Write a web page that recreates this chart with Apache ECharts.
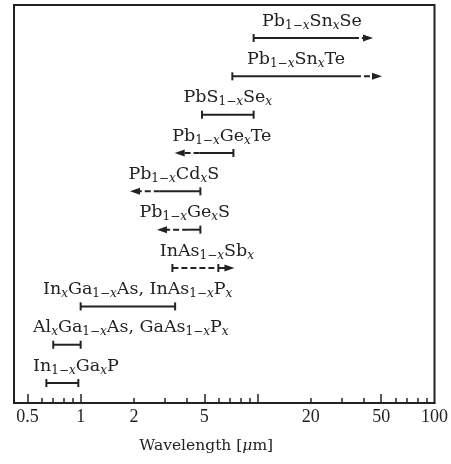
<!DOCTYPE html>
<html>
<head>
<meta charset="utf-8">
<script src="https://cdn.jsdelivr.net/npm/echarts@6/dist/echarts.min.js"></script>
<style>
html,body{margin:0;padding:0;background:#fff;}
#chart{width:451px;height:464px;}
</style>
</head>
<body>
<div id="chart"></div>
<script>
// Material labels (rich text: s = upright subscript, i = italic subscript)
const materials = [
  'Pb{s|1−}{i|x}Sn{i|x}Se',
  'Pb{s|1−}{i|x}Sn{i|x}Te',
  'PbS{s|1−}{i|x}Se{i|x}',
  'Pb{s|1−}{i|x}Ge{i|x}Te',
  'Pb{s|1−}{i|x}Cd{i|x}S',
  'Pb{s|1−}{i|x}Ge{i|x}S',
  'InAs{s|1−}{i|x}Sb{i|x}',
  'In{i|x}Ga{s|1−}{i|x}As, InAs{s|1−}{i|x}P{i|x}',
  'Al{i|x}Ga{s|1−}{i|x}As, GaAs{s|1−}{i|x}P{i|x}',
  'In{s|1−}{i|x}Ga{i|x}P'
];
// wavelength (µm): capped end, junction, tip of the extension (null = none)
const cappedEnd = [9.5, 7.2, 4.85, 7.3, 4.75, 4.75, 3.3, 1.0, 0.7, 0.64];
const junction  = [34.6, 35.5, 9.5, 4.7, 2.8, 4.05, 6.0, 3.42, 1.0, 0.97];
const tipEnd    = [44.9, 50.5, null, 3.4, 1.9, 2.7, 7.4, null, null, null];
// 'range' = capped both ends, 'extend' = solid then dashed arrow, 'dashFirst' = dashed then solid arrow
const kinds = ['extend','extend','range','extend','extend','extend','dashFirst','range','range','range'];
// label centre (µm)
const labelAt = [20.3, 16.5, 6.79, 6.28, 3.36, 3.88, 5.17, 2.10, 1.92, 0.94];

const majorTicks = [0.5, 1, 5, 10, 50];
const minorTicks = [0.6, 0.7, 0.8, 0.9, 2, 3, 4, 6, 7, 8, 9, 20, 30, 40, 60, 70, 80, 90];
const tickLabels = [0.5, 1, 2, 5, 20, 50, 100];

const INK = '#222222';
const chart = echarts.init(document.getElementById('chart'));

function renderItem(params, api) {
  const i = params.dataIndex;
  const yv = materials.length - i;
  const pa = api.coord([cappedEnd[i], yv]);
  const pb = api.coord([junction[i], yv]);
  const y = pa[1];
  const kids = [];
  const solid = {stroke: INK, lineWidth: 2};
  const dashed = {stroke: INK, lineWidth: 2, lineDash: [6, 3]};
  const cap = (x) => kids.push({type: 'line', shape: {x1: x, y1: y - 4, x2: x, y2: y + 4}, style: solid});
  const seg = (x1, x2, st) => kids.push({type: 'line', shape: {x1: x1, y1: y, x2: x2, y2: y}, style: st});
  const arrow = (tip, dir) => kids.push({type: 'polygon', shape: {points: [[tip, y], [tip - dir * 10, y - 3.5], [tip - dir * 10, y + 3.5]]}, style: {fill: INK}});
  const k = kinds[i];
  if (k === 'range') {
    seg(pa[0], pb[0], solid); cap(pa[0]); cap(pb[0]);
  } else if (k === 'extend') {
    const pc = api.coord([tipEnd[i], yv]);
    const dir = pc[0] > pb[0] ? 1 : -1;
    seg(pa[0], pb[0], solid); cap(pa[0]);
    seg(pb[0], pc[0] - dir * 9, dashed);
    arrow(pc[0], dir);
  } else {
    const pc = api.coord([tipEnd[i], yv]);
    const dir = pc[0] > pb[0] ? 1 : -1;
    cap(pa[0]);
    seg(pa[0], pb[0] - dir * 2, dashed);
    cap(pb[0]);
    seg(pb[0], pc[0] - dir * 9, solid);
    arrow(pc[0], dir);
  }
  const lx = api.coord([labelAt[i], yv])[0];
  kids.push({
    type: 'text',
    style: {
      text: materials[i],
      x: lx, y: y - 17,
      align: 'center', verticalAlign: 'middle',
      fontFamily: 'DejaVu Serif', fontSize: 17.5, lineHeight: 21,
      fill: INK,
      rich: {
        s: {fontFamily: 'DejaVu Serif', fontSize: 12, lineHeight: 12, verticalAlign: 'bottom', fill: INK},
        i: {fontFamily: 'DejaVu Serif', fontStyle: 'italic', fontSize: 12, lineHeight: 12, verticalAlign: 'bottom', fill: INK}
      }
    }
  });
  return {type: 'group', children: kids};
}

const option = {
  backgroundColor: '#ffffff',
  animation: false,
  grid: {left: 14, right: 16, top: 5, bottom: 61, show: true, borderColor: INK, borderWidth: 2, backgroundColor: 'transparent'},
  xAxis: [
    {
      type: 'log', min: 0.42, max: 100, position: 'bottom',
      axisLine: {show: true, lineStyle: {color: INK, width: 2}},
      axisTick: {show: true, inside: true, length: 9, customValues: majorTicks, lineStyle: {color: INK, width: 1.5}},
      minorTick: {show: false},
      splitLine: {show: false},
      axisLabel: {customValues: tickLabels, margin: 5, color: INK, fontFamily: 'Liberation Serif', fontSize: 18,
        formatter: (v) => String(v)},
      name: 'Wavelength [{mu|μ}m]',
      nameLocation: 'middle', nameGap: 35,
      nameTextStyle: {color: INK, fontFamily: 'DejaVu Serif', fontSize: 15.5, padding: [0, 36, 0, 0],
        rich: {mu: {fontFamily: 'DejaVu Serif', fontStyle: 'italic', fontSize: 15.5, color: INK}}}
    },
    {
      type: 'log', min: 0.42, max: 100, position: 'bottom',
      axisLine: {show: false},
      axisTick: {show: true, inside: true, length: 5, customValues: minorTicks, lineStyle: {color: INK, width: 1.5}},
      splitLine: {show: false},
      axisLabel: {show: false}
    }
  ],
  yAxis: {type: 'value', min: 0.48, max: 10.86, show: false},
  series: [{
    type: 'custom',
    xAxisIndex: 0,
    renderItem: renderItem,
    data: materials.map((m, i) => [cappedEnd[i], materials.length - i]),
    encode: {x: 0, y: 1},
    silent: true
  }]
};
chart.setOption(option);
</script>
</body>
</html>
